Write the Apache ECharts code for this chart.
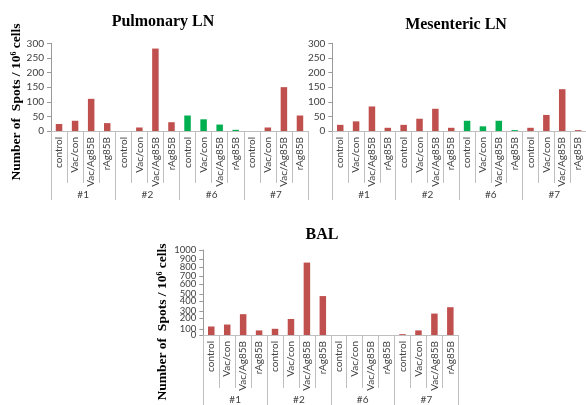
<!DOCTYPE html>
<html>
<head>
<meta charset="utf-8">
<script src="https://cdn.jsdelivr.net/npm/echarts@6/dist/echarts.min.js"></script>
<style>
  html, body { margin: 0; padding: 0; background: #fff; }
  #chart { width: 586px; height: 405px; }
</style>
</head>
<body>
<div id="chart"></div>
<script>
// Stimulation conditions within each animal, and the animals themselves
var conditions = ['control', 'Vac/con', 'Vac/Ag85B', 'rAg85B'];
var animals = ['#1', '#2', '#6', '#7'];

// Spots per 10^6 cells, animal by animal, condition by condition
var pulmonaryLN = [24, 35, 110, 27,   0, 12, 282, 30,   53, 40, 22, 4,   0, 12, 150, 53];
var mesentericLN = [21, 33, 84, 11,   21, 42, 76, 11,   35, 16, 35, 3,   11, 55, 143, 3];
var bal = [100, 123, 245, 54,   73, 188, 852, 458,   0, 0, 0, 0,   10, 54, 252, 327];

// Tick scales
var lnTicks = { min: 0, max: 300, interval: 50 };
var balTicks = { min: 0, max: 1000, interval: 100 };

// Animal drawn in green in the lymph node panels
var greenAnimal = '#6';

var RED = '#C0504D', GREEN = '#00B050';
var AXIS = '#9A9A9A', DIVIDER = '#BFBFBF', LABEL = '#404040';
var SANS = 'Lato, "Open Sans", sans-serif';
var SERIF = '"Liberation Serif", "DejaVu Serif", serif';

var categoryLabels = [];
animals.forEach(function (a) {
  conditions.forEach(function (c) { categoryLabels.push(c); });
});

var balTop = 250, balHeight = 87.5;
var grids = [
  { left: 51, top: 43.3, width: 257, height: 87.7 },
  { left: 332.3, top: 43.3, width: 257.6, height: 87.7 },
  { left: 203.3, top: balTop, width: 255, height: balHeight }
];

var xAxes = [], yAxes = [], series = [];
var panels = [
  { data: pulmonaryLN, ticks: lnTicks, greenGroup: true, catTick: 52, groupTick: 69, groupMargin: 59 },
  { data: mesentericLN, ticks: lnTicks, greenGroup: true, catTick: 52, groupTick: 69, groupMargin: 59 },
  { data: bal, ticks: balTicks, greenGroup: false, catTick: 53, groupTick: 70, groupMargin: 60, dense: true }
];

var yLabel = function (size) {
  return { margin: 7, fontSize: size, color: LABEL, fontFamily: SANS,
           formatter: function (v) { return String(v); } };
};

panels.forEach(function (p, i) {
  // inner level: the condition under each bar
  xAxes.push({
    type: 'category', gridIndex: i, position: 'bottom', data: categoryLabels,
    axisLine: { show: true, lineStyle: { color: DIVIDER, width: 1 } },
    axisTick: { show: true, interval: 0, length: p.catTick, lineStyle: { color: DIVIDER } },
    axisLabel: { interval: 0, rotate: 90, margin: 6, fontSize: 10, color: LABEL, fontFamily: SANS }
  });
  // outer level: the animal each block of four belongs to
  xAxes.push({
    type: 'category', gridIndex: i, position: 'bottom', data: animals,
    axisLine: { show: false },
    axisTick: { show: true, interval: 0, length: p.groupTick, lineStyle: { color: DIVIDER } },
    axisLabel: { interval: 0, margin: p.groupMargin, fontSize: 10, color: LABEL, fontFamily: SANS },
    splitLine: { show: false }
  });
  // dense scales carry every other label here; the rest sit on a companion axis below
  yAxes.push({
    type: 'value', gridIndex: i, min: p.ticks.min, max: p.ticks.max,
    interval: p.dense ? p.ticks.interval * 2 : p.ticks.interval,
    axisLine: { show: true, lineStyle: { color: AXIS } },
    axisTick: { show: true, length: 4, lineStyle: { color: AXIS } },
    axisLabel: yLabel(p.dense ? 9.5 : 10),
    splitLine: { show: false }
  });
  var greenIdx = animals.indexOf(greenAnimal);
  series.push({
    type: 'bar', xAxisIndex: i * 2, yAxisIndex: i, data: p.data,
    barWidth: 6.5, animation: false,
    itemStyle: {
      color: function (params) {
        var g = Math.floor(params.dataIndex / conditions.length);
        return (p.greenGroup && g === greenIdx) ? GREEN : RED;
      }
    }
  });
});

// Companion axis for the BAL scale: starts one step up so it carries the odd hundreds
var step = balTicks.interval;
var range = balTicks.max - balTicks.min;
var stepPx = balHeight * step / range;
grids.push({ left: 203.3, top: balTop, width: 255, height: balHeight - stepPx });
xAxes.push({ type: 'category', gridIndex: 3, data: categoryLabels, show: false });
yAxes.push({
  type: 'value', gridIndex: 3, min: balTicks.min + step, max: balTicks.max, interval: step * 2,
  axisLine: { show: false },
  axisTick: { show: true, length: 4, lineStyle: { color: AXIS } },
  axisLabel: Object.assign(yLabel(9.5), {
    formatter: function (v) { return (v - balTicks.min) % (step * 2) === step ? String(v) : ''; }
  }),
  splitLine: { show: false }
});

var yName = function (x, y) {
  return {
    type: 'text', x: x, y: y, rotation: Math.PI / 2,
    style: {
      text: 'Number of  Spots / 10{sup|6} cells',
      font: 'bold 13.5px ' + SERIF, fill: '#000',
      textAlign: 'center', textVerticalAlign: 'middle',
      rich: { sup: { fontSize: 8, fontWeight: 'bold', fontFamily: SERIF, verticalAlign: 'top', padding: [0, 0, 5, 0] } }
    }
  };
};

var chart = echarts.init(document.getElementById('chart'), null, { renderer: 'canvas' });
chart.setOption({
  animation: false,
  backgroundColor: '#fff',
  title: [
    { text: 'Pulmonary LN', left: 158, top: 9, textAlign: 'center',
      textStyle: { fontFamily: SERIF, fontWeight: 'bold', fontSize: 16, color: '#000' } },
    { text: 'Mesenteric LN', left: 451, top: 12, textAlign: 'center',
      textStyle: { fontFamily: SERIF, fontWeight: 'bold', fontSize: 16, color: '#000' } },
    { text: 'BAL', left: 317, top: 222, textAlign: 'center',
      textStyle: { fontFamily: SERIF, fontWeight: 'bold', fontSize: 16, color: '#000' } }
  ],
  grid: grids,
  xAxis: xAxes,
  yAxis: yAxes,
  series: series,
  graphic: [yName(17, 102), yName(163, 322)]
});
</script>
</body>
</html>
